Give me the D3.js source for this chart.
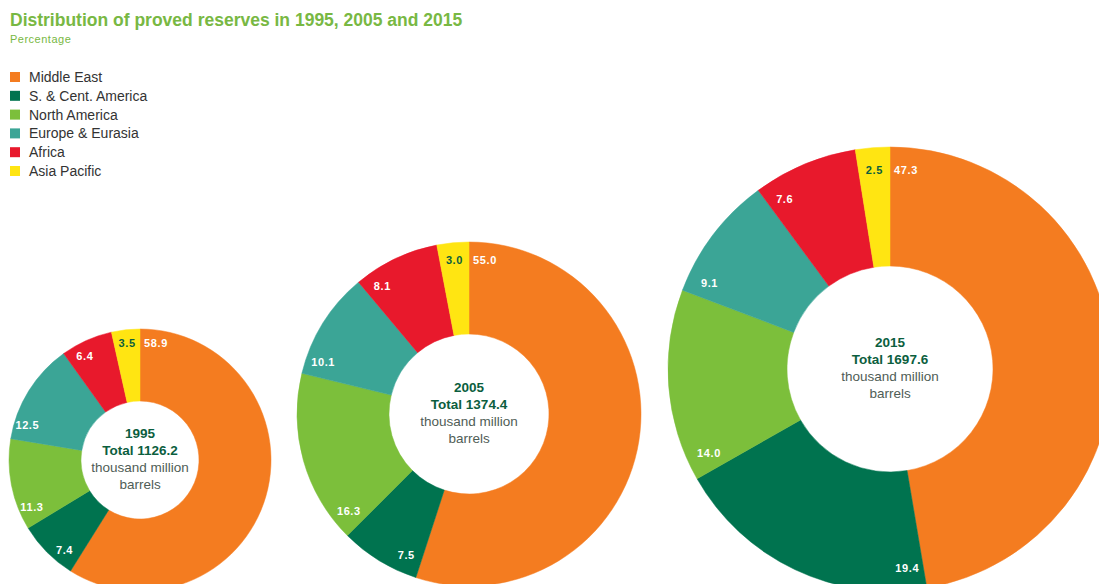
<!DOCTYPE html>
<html>
<head>
<meta charset="utf-8">
<script src="https://cdn.jsdelivr.net/npm/d3@7"></script>
<style>
  body { margin: 0; background: #fff; }
  svg { display: block; font-family: "Liberation Sans", Arial, sans-serif; }
</style>
</head>
<body>
<svg id="chart"></svg>
<script>
const size = {w: 1099, h: 584};

// data
const regions = ['Middle East', 'S. & Cent. America', 'North America', 'Europe & Eurasia', 'Africa', 'Asia Pacific'];
const regionColors = ['#f47c20', '#00734f', '#7cbf3b', '#3ba596', '#e8192c', '#ffe512'];
const years = ['1995', '2005', '2015'];
const totals = [1126.2, 1374.4, 1697.6];
const share1995 = [58.9, 7.4, 11.3, 12.5, 6.4, 3.5];
const share2005 = [55.0, 7.5, 16.3, 10.1, 8.1, 3.0];
const share2015 = [47.3, 19.4, 14.0, 9.1, 7.6, 2.5];
const shares = [share1995, share2005, share2015];

// where each donut sits
const donuts = [
    {cx: 140, cy: 460, outer: 131, inner: 59},
    {cx: 469, cy: 414, outer: 172, inner: 80},
    {cx: 890, cy: 369, outer: 222, inner: 103}
];

const svg = d3.select('#chart')
    .attr('width', size.w)
    .attr('height', size.h);

// title
svg.append('text')
    .attr('x', 10).attr('y', 26)
    .attr('fill', '#78b843')
    .attr('font-size', 17.5)
    .attr('font-weight', 'bold')
    .text('Distribution of proved reserves in 1995, 2005 and 2015');
svg.append('text')
    .attr('x', 10).attr('y', 43)
    .attr('fill', '#78b843')
    .attr('font-size', 11)
    .attr('letter-spacing', 0.5)
    .text('Percentage');

// legend
const legend = svg.append('g')
    .selectAll('g')
    .data(regions)
    .join('g')
    .attr('transform', (d, i) => `translate(10, ${72 + i * 18.8})`);
legend.append('rect')
    .attr('width', 10).attr('height', 10)
    .attr('fill', (d, i) => regionColors[i]);
legend.append('text')
    .attr('x', 19).attr('y', 10)
    .attr('font-size', 14)
    .attr('fill', '#333')
    .text(d => d);

const color = d3.scaleOrdinal().domain(regions).range(regionColors);
const pie = d3.pie().sort(null).value(d => d.value);

years.forEach((yr, k) => {
    const pos = donuts[k];
    const slices = pie(regions.map((r, i) => ({region: r, value: shares[k][i]})));
    const arc = d3.arc().innerRadius(pos.inner).outerRadius(pos.outer);

    const g = svg.append('g')
        .attr('transform', `translate(${pos.cx},${pos.cy})`);

    g.selectAll('path')
        .data(slices)
        .join('path')
        .attr('d', arc)
        .attr('fill', d => color(d.data.region))
        .attr('stroke', d => color(d.data.region))
        .attr('stroke-width', 0.5);

    // labels sit just clockwise of each slice's start edge
    const rl = pos.outer * 0.9;
    g.selectAll('text.val')
        .data(slices)
        .join('text')
        .classed('val', true)
        .attr('transform', d => {
            const a = d.startAngle + Math.min(16 / rl, (d.endAngle - d.startAngle) / 2);
            return `translate(${rl * Math.sin(a)},${-rl * Math.cos(a)})`;
        })
        .attr('text-anchor', 'middle')
        .attr('dy', '0.35em')
        .attr('font-size', 11)
        .attr('font-weight', 'bold')
        .attr('letter-spacing', 0.6)
        .attr('fill', d => d.data.region === 'Asia Pacific' ? '#0b5e3e' : '#fff')
        .text(d => d.data.value.toFixed(1));

    const center = g.append('text')
        .attr('text-anchor', 'middle')
        .attr('font-size', 13.5);
    center.append('tspan')
        .attr('x', 0).attr('y', -22)
        .attr('font-weight', 'bold').attr('fill', '#0b5e3e')
        .text(yr);
    center.append('tspan')
        .attr('x', 0).attr('y', -5)
        .attr('font-weight', 'bold').attr('fill', '#0b5e3e')
        .text('Total ' + totals[k].toFixed(1));
    center.append('tspan')
        .attr('x', 0).attr('y', 12)
        .attr('fill', '#4f5d56')
        .text('thousand million');
    center.append('tspan')
        .attr('x', 0).attr('y', 29)
        .attr('fill', '#4f5d56')
        .text('barrels');
});
</script>
</body>
</html>
